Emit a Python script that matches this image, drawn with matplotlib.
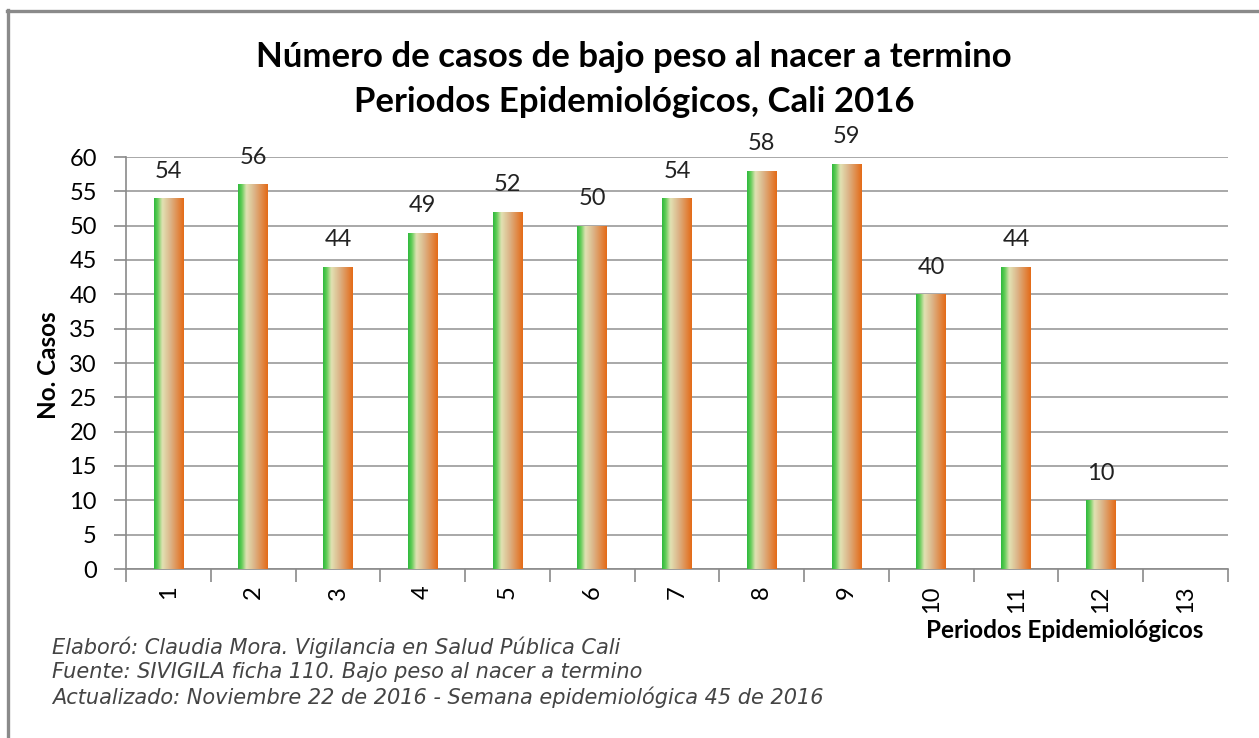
import numpy as np
import matplotlib
matplotlib.use('Agg')
import matplotlib.pyplot as plt
from matplotlib.colors import LinearSegmentedColormap
from matplotlib.lines import Line2D

# data
periodos = ['1', '2', '3', '4', '5', '6', '7', '8', '9', '10', '11', '12', '13']
casos = [54, 56, 44, 49, 52, 50, 54, 58, 59, 40, 44, 10, 0]
titulo = 'Número de casos de bajo peso al nacer a termino\nPeriodos Epidemiológicos, Cali 2016'
notas = ['Elaboró: Claudia Mora. Vigilancia en Salud Pública Cali',
         'Fuente: SIVIGILA ficha 110. Bajo peso al nacer a termino',
         'Actualizado: Noviembre 22 de 2016 - Semana epidemiológica 45 de 2016']

W, H = 1259, 738
fig = plt.figure(figsize=(W/100, H/100), dpi=100)
ax = fig.add_axes([126/W, 1-569/H, (1228-126)/W, (569-157)/H])

grad = LinearSegmentedColormap.from_list('g', [(0.0, '#2db83d'), (0.12, '#5fcc55'),
                                               (0.28, '#e2e2b4'), (0.55, '#dcb488'),
                                               (1.0, '#e46a16')])
img = np.linspace(0, 1, 256).reshape(1, -1)

x = np.arange(1, len(casos)+1)
bw = 0.35
bars = ax.bar(x, casos, width=bw, color='none', edgecolor='none', zorder=3)
for b, v in zip(bars, casos):
    if v <= 0:
        continue
    x0, y0 = b.get_x(), b.get_y()
    im = ax.imshow(img, cmap=grad, aspect='auto', extent=(x0, x0+bw, y0, y0+v),
                   zorder=3, interpolation='bicubic')
    im.set_clip_path(b)
    ax.text(b.get_x()+bw/2, v+2.4, str(v), ha='center', va='bottom',
            fontsize=17, family='Lato', color='#222222')

ax.set_xlim(0.5, len(casos)+0.5)
ax.set_ylim(0, 60)
ax.set_yticks(np.arange(0, 61, 5))
ax.yaxis.grid(True, color='#9a9a9a', lw=1.2)
ax.set_axisbelow(True)
ax.set_xticks(np.arange(0.5, len(casos)+1, 1))
ax.set_xticklabels([])
ax.set_xticks(x, minor=True)
ax.set_xticklabels(periodos, minor=True, rotation=90, fontsize=17, family='Lato')
ax.tick_params(axis='x', which='major', length=9, color='#8a8a8a', width=1.2)
ax.tick_params(axis='x', which='minor', length=0, pad=12)
ax.tick_params(axis='y', length=9, color='#8a8a8a', width=1.2, labelsize=17, pad=12)
for lab in ax.get_yticklabels():
    lab.set_family('Lato')
for s in ['top', 'right']:
    ax.spines[s].set_visible(False)
for s in ['left', 'bottom']:
    ax.spines[s].set_color('#8a8a8a')
    ax.spines[s].set_linewidth(1.2)

fig.text(634/W, 1-57/H, titulo.split('\n')[0], ha='center', va='center',
         fontsize=25, fontweight='bold', family='Lato')
fig.text(634/W, 1-102/H, titulo.split('\n')[1], ha='center', va='center',
         fontsize=25, fontweight='bold', family='Lato')
fig.text(48/W, 1-365/H, 'No. Casos', rotation=90, ha='center', va='center',
         fontsize=17.5, fontweight='bold', family='Lato')
fig.text(1065/W, 1-631/H, 'Periodos Epidemiológicos', ha='center', va='center',
         fontsize=17.5, fontweight='bold', family='Lato')
for i, t in enumerate(notas):
    fig.text(52/W, 1-(647+25*i)/H, t, ha='left', va='center', fontsize=15,
             style='italic', family='DejaVu Sans', color='#444444')

# outer frame of the pasted chart
fig.add_artist(Line2D([8/W, 8/W], [0, 1-10/H], transform=fig.transFigure,
                      color='#8a8a8a', lw=2.4))
fig.add_artist(Line2D([7/W, 1], [1-11/H, 1-11/H], transform=fig.transFigure,
                      color='#8a8a8a', lw=2.4))

fig.savefig('out.png', dpi=100)
plt.close()
